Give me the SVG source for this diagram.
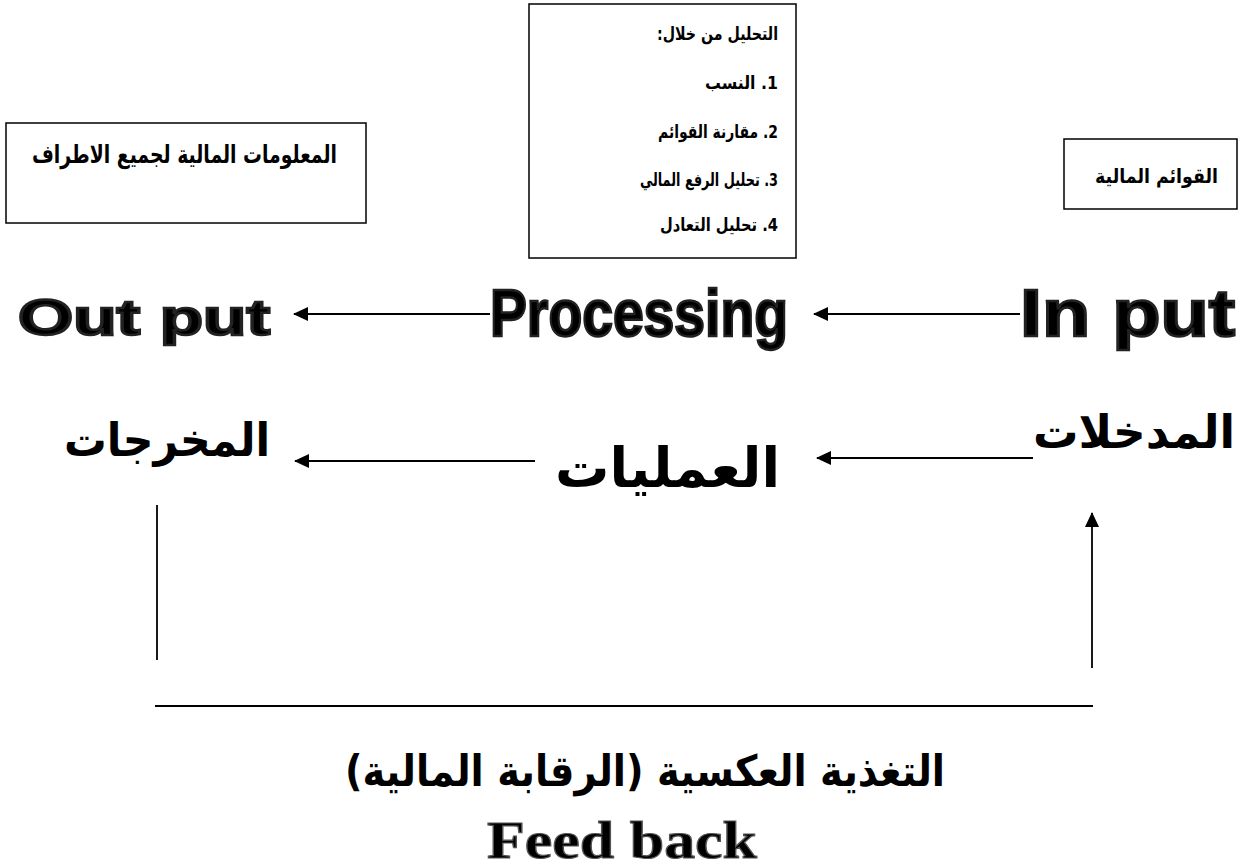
<svg xmlns="http://www.w3.org/2000/svg" width="1240" height="867" viewBox="0 0 1240 867">
<style>
.box{fill:#fff;stroke:#000;stroke-width:1.5}
.ar{font-family:"DejaVu Sans","Noto Sans",sans-serif;font-weight:bold;fill:#000}
.lat{font-family:"Liberation Sans",Arial,sans-serif;font-weight:bold;fill:#000;stroke:#222;stroke-width:2.5}
.ser{font-family:"Liberation Serif","Times New Roman",serif;font-weight:bold;fill:#000;stroke:#555;stroke-width:1.2}
.ln{stroke:#000;stroke-width:1.8;fill:none}
</style>
<defs>
<marker id="ah" markerWidth="16" markerHeight="14" refX="14" refY="7" orient="auto" markerUnits="userSpaceOnUse">
<path d="M0,0 L15,7 L0,14 Z" fill="#000"/>
</marker>
</defs>

<g id="node-methods">
<rect class="box" x="529" y="4" width="267" height="254"/>
<text class="ar" font-size="18" direction="rtl" text-anchor="start" x="778" y="40" textLength="121" lengthAdjust="spacingAndGlyphs">التحليل من خلال:</text>
<text class="ar" font-size="18" direction="rtl" text-anchor="start" x="778" y="89" textLength="73" lengthAdjust="spacingAndGlyphs">1. النسب</text>
<text class="ar" font-size="18" direction="rtl" text-anchor="start" x="778" y="138" textLength="120" lengthAdjust="spacingAndGlyphs">2. مقارنة القوائم</text>
<text class="ar" font-size="18" direction="rtl" text-anchor="start" x="778" y="186" textLength="138" lengthAdjust="spacingAndGlyphs">3. تحليل الرفع المالي</text>
<text class="ar" font-size="18" direction="rtl" text-anchor="start" x="778" y="231" textLength="118" lengthAdjust="spacingAndGlyphs">4. تحليل التعادل</text>
</g>

<g id="node-info">
<rect class="box" x="6" y="123" width="360" height="100"/>
<text class="ar" font-size="25" x="32" y="163" textLength="305" lengthAdjust="spacingAndGlyphs">المعلومات المالية لجميع الاطراف</text>
</g>

<g id="node-statements">
<rect class="box" x="1064" y="139" width="173" height="70"/>
<text class="ar" font-size="20" text-anchor="end" x="1218" y="183" textLength="123" lengthAdjust="spacingAndGlyphs">القوائم المالية</text>
</g>

<g id="node-output">
<text class="lat" font-size="50" x="18" y="335" textLength="252" lengthAdjust="spacingAndGlyphs">Out put</text>
<text class="ar" font-size="46" x="64" y="456" textLength="206" lengthAdjust="spacingAndGlyphs">المخرجات</text>
</g>

<g id="node-processing">
<text class="lat" font-size="66" x="490" y="336" textLength="298" lengthAdjust="spacingAndGlyphs">Processing</text>
<text class="ar" font-size="55" x="555" y="487" textLength="225" lengthAdjust="spacingAndGlyphs">العمليات</text>
</g>

<g id="node-input">
<text class="lat" font-size="66" text-anchor="end" x="1235" y="336" textLength="215" lengthAdjust="spacingAndGlyphs">In put</text>
<text class="ar" font-size="46" text-anchor="end" x="1235" y="448" textLength="202" lengthAdjust="spacingAndGlyphs">المدخلات</text>
</g>

<g id="node-feedback">
<text class="ar" font-size="43" x="345" y="786" textLength="600" lengthAdjust="spacingAndGlyphs">التغذية العكسية (الرقابة المالية)</text>
<text class="ser" font-size="52" x="487" y="858" textLength="270" lengthAdjust="spacingAndGlyphs">Feed back</text>
</g>

<g id="connectors">
<line class="ln" x1="490" y1="314" x2="294" y2="314" marker-end="url(#ah)"/>
<line class="ln" x1="1020" y1="314" x2="814" y2="314" marker-end="url(#ah)"/>
<line class="ln" x1="535" y1="461" x2="295" y2="461" marker-end="url(#ah)"/>
<line class="ln" x1="1033" y1="458" x2="817" y2="458" marker-end="url(#ah)"/>
<line class="ln" x1="157" y1="505" x2="157" y2="660"/>
<line class="ln" x1="1092" y1="668" x2="1092" y2="513" marker-end="url(#ah)"/>
<line class="ln" x1="155" y1="706" x2="1093" y2="706"/>
</g>
</svg>
